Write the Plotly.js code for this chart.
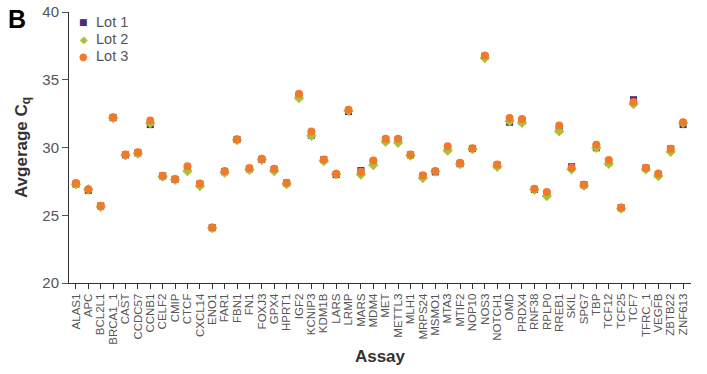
<!DOCTYPE html>
<html>
<head>
<meta charset="utf-8">
<script src="https://cdn.plot.ly/plotly-3.0.1.min.js"></script>
<style>html,body{margin:0;padding:0;background:#fff;}#chart{width:707px;height:374px;}</style>
</head>
<body>
<div id="chart"></div>
<script>
const assays = ["ALAS1","APC","BCL2L1","BRCA1_1","CAST","CCDC57","CCNB1","CELF2","CMIP","CTCF",
  "CXCL14","ENO1","FAR1","FBN1","FN1","FOXJ3","GPX4","HPRT1","IGF2","KCNIP3",
  "KDM1B","LARS","LRMP","MARS","MDM4","MET","METTL3","MLH1","MRPS24","MSMO1",
  "MTA3","MTIF2","NOP10","NOS3","NOTCH1","OMD","PRDX4","RNF38","RPLP0","RREB1",
  "SKIL","SPG7","TBP","TCF12","TCF25","TCF7","TFRC_1","VEGFB","ZBTB22","ZNF613"];

const lot1 = [27.3,26.84,25.68,32.2,29.45,29.6,31.69,27.9,27.65,28.38,
  27.3,24.08,28.22,30.58,28.42,29.12,28.38,27.38,33.8,30.9,
  29.1,28.0,32.65,28.3,28.9,30.55,30.55,29.45,27.88,28.2,
  29.9,28.8,29.92,36.72,28.7,31.86,31.95,26.9,26.6,31.32,
  28.58,27.25,29.98,28.9,25.55,33.53,28.48,28.0,29.9,31.69];

const lot2 = [27.28,26.9,25.62,32.18,29.42,29.55,31.79,27.85,27.62,28.26,
  27.15,24.05,28.15,30.55,28.35,29.1,28.27,27.3,33.65,30.86,
  29.0,28.02,32.7,28.0,28.7,30.42,30.35,29.4,27.75,28.22,
  29.78,28.78,29.88,36.6,28.58,31.93,31.82,26.88,26.42,31.2,
  28.4,27.2,29.98,28.8,25.5,33.21,28.4,27.89,29.68,31.8];

const lot3 = [27.38,26.91,25.71,32.23,29.49,29.65,31.99,27.92,27.67,28.62,
  27.35,24.1,28.26,30.61,28.48,29.17,28.43,27.4,33.97,31.18,
  29.12,28.07,32.79,28.21,29.04,30.64,30.64,29.49,27.96,28.26,
  30.1,28.87,29.95,36.79,28.75,32.18,32.11,26.96,26.71,31.62,
  28.51,27.26,30.2,29.07,25.57,33.36,28.51,28.09,29.9,31.86];

const lotNames = ['Lot 1','Lot 2','Lot 3'];
const lotColors = ['#4a2c70','#a9c23c','#f0792a'];
const lotSymbols = ['square','diamond','circle'];
const legendGlyphs = ['\u25A0','\u25C6','\u25CF'];

const grey = '#555555';
const series = [lot1, lot2, lot3];
const sizes = [7, 8, 8];
const traces = series.map((vals, k) => ({
  name: lotNames[k], x: assays, y: vals, type:'scatter', mode:'markers',
  marker:{symbol: lotSymbols[k], size: sizes[k], color: lotColors[k]}
}));

const legendY = [0.963, 0.900, 0.837];
const annotations = [{text:'<b>B</b>', xref:'paper', yref:'paper', x:-0.102, y:1.035,
    xanchor:'left', yanchor:'top', showarrow:false, font:{size:25, color:'#000'}}];
lotNames.forEach((n, k) => {
  annotations.push({text: legendGlyphs[k], xref:'paper', yref:'paper', x:0.024, y:legendY[k],
    xanchor:'center', yanchor:'middle', showarrow:false, borderpad:0,
    font:{size: k===0 ? 9 : 10, color: lotColors[k], family:'DejaVu Sans'}});
  annotations.push({text: n, xref:'paper', yref:'paper', x:0.042, y:legendY[k],
    xanchor:'left', yanchor:'middle', showarrow:false, borderpad:0,
    font:{size:14.5, color:grey}});
});

const layout = {
  width:707, height:374,
  margin:{l:69, r:16, t:12, b:91},
  paper_bgcolor:'#fff', plot_bgcolor:'#fff',
  font:{family:'Liberation Sans, Arial, sans-serif', color:grey},
  showlegend:false,
  xaxis:{type:'category', range:[-0.56, 49.64], showgrid:false, zeroline:false,
         tickmode:'array', tickvals:assays, ticktext:assays,
         showline:true, linecolor:'#333', linewidth:1,
         ticks:'outside', ticklen:5, tickcolor:'#333', tickangle:-90,
         tickfont:{size:11.5, color:grey},
         title:{text:'<b>Assay</b>', font:{size:17, color:'#333'}, standoff:6}},
  yaxis:{range:[20,40], tickvals:[20,25,30,35,40], showgrid:false, zeroline:false,
         showline:true, linecolor:'#333', linewidth:1,
         ticks:'outside', ticklen:6, tickcolor:'#555',
         tickfont:{size:15, color:grey},
         title:{text:'<b>Avgerage C<sub>q</sub></b>', font:{size:17, color:'#333'}, standoff:10}},
  annotations: annotations
};

Plotly.newPlot('chart', traces, layout, {displayModeBar:false, staticPlot:true});
</script>
</body>
</html>
